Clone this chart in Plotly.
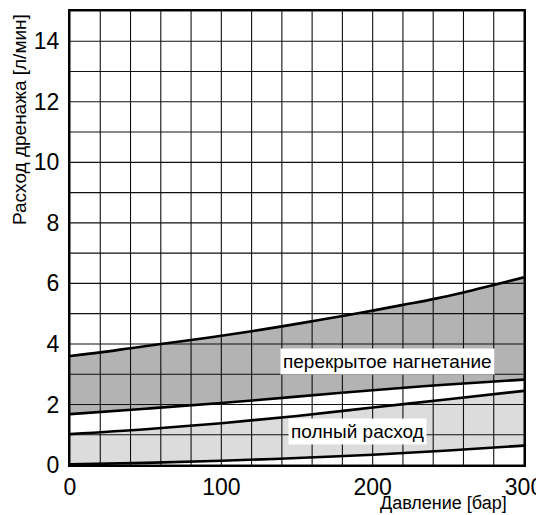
import plotly.graph_objects as go

# Data
x_top = [0, 20, 40, 60, 80, 100, 120, 140, 160, 180, 200, 220, 240, 260, 280, 300]
y_top = [3.6, 3.72, 3.86, 4.0, 4.13, 4.27, 4.42, 4.58, 4.75, 4.92, 5.1, 5.29, 5.48, 5.7, 5.95, 6.2]

x_mid = [0, 50, 100, 150, 200, 250, 300]
y_mid_hi = [1.68, 1.86, 2.05, 2.26, 2.47, 2.66, 2.82]   # lower edge of "перекрытое нагнетание"
y_low_hi = [1.02, 1.18, 1.38, 1.62, 1.9, 2.17, 2.45]    # upper edge of "полный расход"
y_low_lo = [0.02, 0.07, 0.14, 0.23, 0.34, 0.48, 0.64]   # lower edge of "полный расход"

x_ticks = [0, 100, 200, 300]
y_ticks = [0, 2, 4, 6, 8, 10, 12, 14]
x_grid = list(range(0, 301, 20))
y_grid = list(range(0, 16, 1))

label_overlap = "перекрытое нагнетание"
label_full = "полный расход"
x_title = "Давление [бар]"
y_title = "Расход дренажа [л/мин]"

FONT = "Liberation Sans, Arial, sans-serif"

# page has an 8px body margin; compensate so the plot lands where the reference has it
OFF = 8
W, H = 544 - OFF, 515 - OFF
PL, PR, PT, PB = 70, 524, 11, 465          # plot area in page pixels
ML, MT = PL - OFF, PT - OFF
MR, MB = W - (PR - OFF), H - (PB - OFF)
PW, PH = PR - PL, PB - PT


def px_to_paper(px, py):
    return (px - PL) / PW, (PB - py) / PH


fig = go.Figure()

# dark band
fig.add_trace(go.Scatter(
    x=x_top + x_mid[::-1], y=y_top + y_mid_hi[::-1],
    fill="toself", fillcolor="#b3b3b3", mode="none", hoverinfo="skip"))
# light band
fig.add_trace(go.Scatter(
    x=x_mid + x_mid[::-1], y=y_low_hi + y_low_lo[::-1],
    fill="toself", fillcolor="#dcdcdd", mode="none", hoverinfo="skip"))

# grid drawn above fills
gx, gy = [], []
for v in x_grid:
    gx += [v, v, None]
    gy += [0, 15, None]
for v in y_grid:
    gx += [0, 300, None]
    gy += [v, v, None]
fig.add_trace(go.Scatter(x=gx, y=gy, mode="lines",
                         line=dict(color="#111111", width=1.1), hoverinfo="skip"))

# curves
for xs, ys in [(x_top, y_top), (x_mid, y_mid_hi), (x_mid, y_low_hi), (x_mid, y_low_lo)]:
    fig.add_trace(go.Scatter(x=xs, y=ys, mode="lines",
                             line=dict(color="black", width=2.6, shape="spline"),
                             hoverinfo="skip"))

fig.add_annotation(x=209.5, y=3.43, text=label_overlap, showarrow=False,
                   bgcolor="white", borderpad=2,
                   font=dict(family=FONT, size=19, color="black"))
fig.add_annotation(x=190, y=1.12, text=label_full, showarrow=False,
                   bgcolor="white", borderpad=2,
                   font=dict(family=FONT, size=19, color="black"))

ax, ay = px_to_paper(443, 503)
fig.add_annotation(x=ax, y=ay, xref="paper", yref="paper", text=x_title,
                   showarrow=False, xanchor="center", yanchor="middle",
                   font=dict(family=FONT, size=18, color="black"))
bx, by = px_to_paper(20, 120)
fig.add_annotation(x=bx, y=by, xref="paper", yref="paper",
                   text=y_title, textangle=-90, showarrow=False,
                   xanchor="center", yanchor="middle",
                   font=dict(family=FONT, size=19, color="black"))

fig.update_layout(
    width=W, height=H,
    margin=dict(l=ML, r=MR, t=MT, b=MB, autoexpand=False),
    paper_bgcolor="white", plot_bgcolor="white",
    showlegend=False,
    font=dict(family=FONT, color="black"),
)

fig.update_xaxes(range=[0, 300], tickvals=x_ticks, showgrid=False, zeroline=False,
                 showline=True, mirror=True, linecolor="black", linewidth=2,
                 ticks="", tickfont=dict(family=FONT, size=23, color="black"))
fig.update_yaxes(range=[0, 15], tickvals=y_ticks, showgrid=False, zeroline=False,
                 showline=True, mirror=True, linecolor="black", linewidth=2,
                 ticks="", ticklabelstandoff=4,
                 tickfont=dict(family=FONT, size=23, color="black"))

fig.write_html("out.html")
